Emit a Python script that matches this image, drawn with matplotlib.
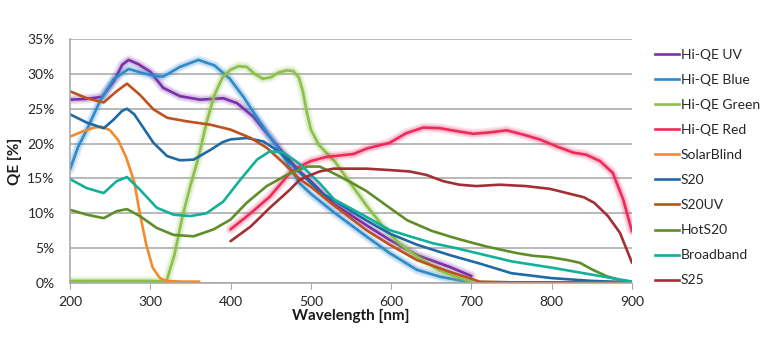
import matplotlib
matplotlib.use("Agg")
import matplotlib.pyplot as plt
import matplotlib.patheffects as pe
from matplotlib.lines import Line2D
from matplotlib.ticker import FuncFormatter

plt.rcParams['font.family'] = ['Lato', 'DejaVu Sans']

# wavelength [nm] / QE [%], one pair of lists per tube
uv_wl = [200, 220, 240, 255, 265, 273, 285, 300, 316, 337, 362, 391, 408, 428, 445, 461, 486, 500, 528, 569, 598, 632, 673, 700]
uv_qe = [26.3, 26.4, 26.7, 29.0, 31.3, 32.0, 31.4, 30.3, 28.0, 26.8, 26.3, 26.5, 25.8, 23.9, 21.5, 19.3, 16.0, 14.6, 11.4, 8.3, 6.2, 4.0, 2.3, 1.0]

blue_wl = [200, 210, 221, 237, 254, 273, 291, 305, 316, 337, 360, 380, 399, 416, 432, 449, 466, 486, 500, 528, 569, 598, 632, 661, 694, 700]
blue_qe = [16.3, 19.5, 22.0, 26.0, 29.2, 30.7, 30.1, 29.7, 29.6, 31.0, 32.0, 31.2, 29.3, 26.7, 23.9, 21.0, 18.1, 14.3, 12.8, 10.2, 6.7, 4.3, 1.9, 0.9, 0.2, 0.1]

green_wl = [200, 250, 300, 320, 330, 340, 350, 360, 370, 380, 390, 400, 410, 420, 430, 440, 450, 460, 470, 478, 485, 490, 495, 500,
            510, 520, 530, 550, 570, 590, 610, 632, 660, 700]
green_qe = [0.3, 0.3, 0.3, 0.2, 4.0, 9.5, 14.0, 18.0, 23.0, 27.0, 29.5, 30.6, 31.1, 31.0, 30.0, 29.3, 29.5, 30.2, 30.5, 30.4, 29.5, 27.5, 24.5, 22.0,
            19.8, 18.6, 17.4, 14.2, 11.0, 8.1, 5.7, 3.8, 1.8, 0.1]

red_wl = [400, 425, 449, 474, 486, 500, 520, 553, 570, 598, 619, 640, 661, 681, 702, 723, 744, 764, 785, 806, 827, 843, 860, 876, 889, 900]
red_qe = [7.7, 10.0, 12.4, 15.8, 16.7, 17.5, 18.1, 18.5, 19.3, 20.1, 21.5, 22.3, 22.2, 21.8, 21.4, 21.6, 21.9, 21.3, 20.6, 19.6, 18.7, 18.4, 17.5, 15.8, 12.0, 7.4]

solar_wl = [200, 215, 230, 240, 250, 260, 270, 280, 287, 295, 303, 312, 320, 340, 361]
solar_qe = [21.0, 21.7, 22.3, 22.4, 21.9, 20.5, 18.0, 14.5, 10.0, 5.5, 2.2, 0.7, 0.3, 0.2, 0.2]

s20_wl = [200, 221, 242, 254, 265, 271, 280, 290, 304, 321, 337, 354, 375, 390, 400, 420, 441, 462, 487, 512, 528, 550, 569, 598, 632, 673, 710, 750, 800, 850, 900]
s20_qe = [24.2, 23.0, 22.2, 23.4, 24.7, 25.0, 24.2, 22.5, 20.1, 18.2, 17.6, 17.7, 19.1, 20.2, 20.6, 20.8, 20.3, 18.7, 15.8, 13.0, 11.9, 10.3, 9.0, 7.1, 5.5, 4.0, 2.8, 1.4, 0.7, 0.3, 0.1]

s20uv_wl = [200, 221, 242, 258, 271, 287, 304, 321, 345, 375, 400, 425, 445, 466, 486, 500, 528, 569, 598, 632, 673, 700, 710, 750, 900]
s20uv_qe = [27.5, 26.5, 25.9, 27.5, 28.6, 27.0, 24.9, 23.7, 23.2, 22.7, 22.0, 20.8, 19.4, 17.2, 14.9, 13.8, 11.2, 7.6, 5.5, 3.3, 1.6, 0.6, 0.2, 0.1, 0.1]

hot_wl = [200, 221, 242, 258, 271, 287, 308, 329, 354, 379, 400, 420, 445, 470, 495, 511, 529, 549, 569, 598, 620, 650, 675, 700, 720,
          756, 777, 798, 819, 835, 851, 868, 885, 900]
hot_qe = [10.5, 9.8, 9.3, 10.3, 10.6, 9.6, 7.9, 6.9, 6.7, 7.7, 9.1, 11.5, 13.9, 15.5, 16.7, 16.7, 15.7, 14.5, 13.2, 10.8, 9.0, 7.5, 6.6, 5.8, 5.2,
          4.3, 3.9, 3.7, 3.3, 2.9, 1.9, 1.0, 0.4, 0.2]

broad_wl = [200, 221, 242, 258, 271, 287, 308, 329, 350, 370, 391, 412, 433, 449, 466, 487, 511, 529, 569, 598, 623, 652, 681, 710, 750, 800, 850, 900]
broad_qe = [14.9, 13.6, 12.9, 14.6, 15.2, 13.4, 10.8, 9.8, 9.6, 10.0, 11.7, 14.8, 17.7, 18.9, 18.7, 17.0, 14.3, 12.0, 9.5, 7.6, 6.7, 5.7, 5.0, 4.2, 3.1, 2.2, 1.2, 0.2]

s25_wl = [400, 425, 449, 474, 486, 500, 511, 528, 569, 598, 623, 644, 665, 685, 706, 735, 768, 798, 819, 840, 853, 870, 885, 900]
s25_qe = [6.0, 8.1, 10.8, 13.4, 14.8, 15.5, 16.0, 16.4, 16.4, 16.2, 16.0, 15.5, 14.6, 14.1, 13.9, 14.1, 13.9, 13.5, 12.9, 12.3, 11.5, 9.6, 7.2, 2.9]

names = ["Hi-QE UV", "Hi-QE Blue", "Hi-QE Green", "Hi-QE Red", "SolarBlind", "S20", "S20UV", "HotS20", "Broadband", "S25"]
colors = ["#7B2FA8", "#2E8BCB", "#8CC04B", "#EE2A5B", "#F58A2C", "#1F6AA5", "#C0501C", "#5E8E2A", "#12B09A", "#A32E33"]
series = [(uv_wl, uv_qe), (blue_wl, blue_qe), (green_wl, green_qe), (red_wl, red_qe), (solar_wl, solar_qe),
          (s20_wl, s20_qe), (s20uv_wl, s20uv_qe), (hot_wl, hot_qe), (broad_wl, broad_qe), (s25_wl, s25_qe)]
glow = [True, True, True, True, False, False, False, False, False, False]

fig = plt.figure(figsize=(7.82, 3.47), dpi=100)
ax = fig.add_axes([70 / 782, 1 - 283 / 347, 562 / 782, 244 / 347])

handles = []
for name, col, (wl, qe), g in zip(names, colors, series, glow):
    line, = ax.plot(wl, qe, color=col, lw=1.9, solid_capstyle="round", solid_joinstyle="round")
    if g:
        line.set_path_effects([pe.Stroke(linewidth=7, foreground=col, alpha=0.12),
                               pe.Stroke(linewidth=4.5, foreground=col, alpha=0.2),
                               pe.Normal()])
    handles.append(Line2D([], [], color=col, lw=1.9, label=name))

ax.set_xlim(200, 900)
ax.set_ylim(0, 35)
ax.set_xticks(range(200, 901, 100))
ax.set_yticks(range(0, 36, 5))
ax.yaxis.set_major_formatter(FuncFormatter(lambda v, p: f"{int(v)}%"))
ax.grid(axis="y", color="#A6A6A6", lw=1.1)
ax.set_axisbelow(True)
for s in ["top", "right"]:
    ax.spines[s].set_visible(False)
for s in ["left", "bottom"]:
    ax.spines[s].set_color("#A6A6A6")
    ax.spines[s].set_linewidth(1.1)
ax.tick_params(axis="x", length=4, color="#A6A6A6", labelsize=10, pad=5, labelcolor="#262626")
ax.tick_params(axis="y", length=0, labelsize=10, pad=11, labelcolor="#262626")

ax.set_xlabel("Wavelength [nm]", fontsize=11, fontweight="bold", labelpad=1, color="#1a1a1a")
ax.set_ylabel("QE [%]", fontsize=11, fontweight="bold", labelpad=4, color="#1a1a1a")

ax.legend(handles=handles, loc="upper left", bbox_to_anchor=(655 / 782, 1 - 49 / 347), bbox_transform=fig.transFigure,
          frameon=False, fontsize=10, handlelength=1.7, handletextpad=0.15, labelspacing=0.94, borderpad=0, borderaxespad=0,
          labelcolor="#262626")

fig.savefig("out.png", dpi=100)
